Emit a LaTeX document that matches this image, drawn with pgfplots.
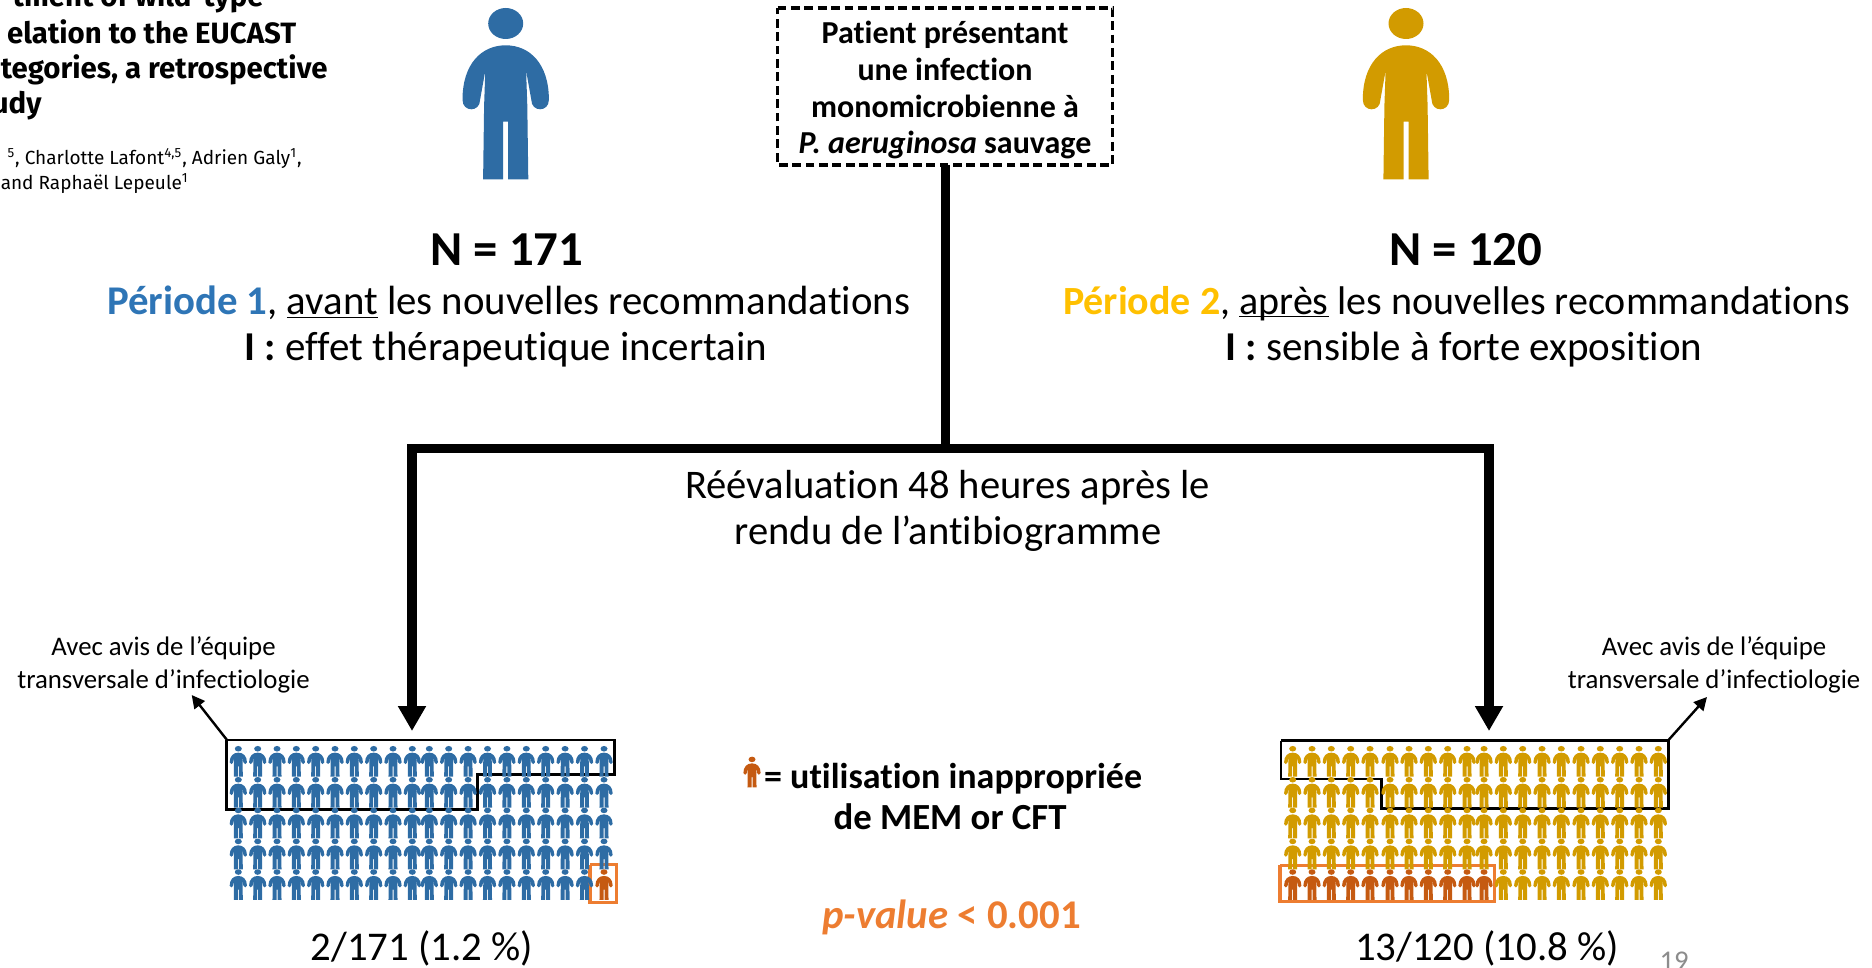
\documentclass[border=0pt]{standalone}
\usepackage{pgfplots}
\pgfplotsset{compat=1.18}
\usepackage{fontspec}
\usetikzlibrary{arrows.meta}
\setmainfont{Carlito}[RawFeature={-liga,-clig,-dlig}]
\newfontfamily\paperfont{Fira Sans}

\definecolor{pblue}{HTML}{2E6CA4}
\definecolor{pgold}{HTML}{D29B00}
\definecolor{pbrown}{HTML}{C55A11}
\definecolor{porange}{HTML}{ED7D31}
\definecolor{tblue}{HTML}{2E75B6}
\definecolor{tgold}{HTML}{FFC000}
\definecolor{pagegray}{HTML}{8C8C8C}

% little man, origin at mid height, about 43pt wide and 86pt tall
\def\PP#1#2{\pgfqpoint{#1pt}{#2pt}}
\pgfdeclareplotmark{person}{%
  \pgfpathellipse{\PP{0}{35.1}}{\PP{8.75}{0}}{\PP{0}{7.75}}%
  \pgfpathmoveto{\PP{-11.3}{-42.8}}%
  \pgfpathlineto{\PP{-1.25}{-42.8}}%
  \pgfpathlineto{\PP{-1.25}{-14}}%
  \pgfpathlineto{\PP{1.25}{-14}}%
  \pgfpathlineto{\PP{1.25}{-42.8}}%
  \pgfpathlineto{\PP{11.3}{-42.8}}%
  \pgfpathlineto{\PP{10.8}{-6}}%
  \pgfpathlineto{\PP{10.2}{11.5}}%
  \pgfpathlineto{\PP{12.8}{-3}}%
  \pgfpathcurveto{\PP{12.8}{-9.4}}{\PP{21.6}{-9.4}}{\PP{21.6}{-3}}%
  \pgfpathcurveto{\PP{21.6}{15}}{\PP{12}{24.2}}{\PP{0}{24.2}}%
  \pgfpathcurveto{\PP{-12}{24.2}}{\PP{-21.6}{15}}{\PP{-21.6}{-3}}%
  \pgfpathcurveto{\PP{-21.6}{-9.4}}{\PP{-12.8}{-9.4}}{\PP{-12.8}{-3}}%
  \pgfpathlineto{\PP{-10.2}{11.5}}%
  \pgfpathlineto{\PP{-10.8}{-6}}%
  \pgfpathclose
  \pgfusepathqfill
}

\pgfplotsset{
  man/.style={only marks, mark=person, color=#1, mark options={fill=#1, draw=none, xscale=0.2, yscale=0.179}},
  bigman/.style={only marks, mark=person, color=#1, mark options={fill=#1, draw=none}},
  thick line/.style={black, line width=4.7pt, line cap=butt, no markers},
  box line/.style={black, line width=1.4pt, no markers, line join=miter},
  orange box/.style={porange, line width=1.7pt, no markers, line join=miter},
}
\newcommand{\fs}[1]{\fontsize{#1}{#1}\selectfont}
\tikzset{lab/.style={anchor=base, inner sep=0pt}}

\begin{document}
\begin{tikzpicture}
\clip (0,0) rectangle (936pt,484pt);
\begin{axis}[
    at={(0,0)}, anchor=south west,
    scale only axis, width=936pt, height=484pt,
    xmin=0, xmax=1872, ymin=0, ymax=968,
    y dir=reverse, hide axis, clip=false,
]
% flow lines
\addplot[thick line] coordinates {(945.5,165) (945.5,449)};
\addplot[thick line] coordinates {(407.3,448.5) (1493.7,448.5)};
\addplot[thick line, -{Triangle[width=13.3pt,length=12.5pt]}] coordinates {(412,445) (412,731)};
\addplot[thick line, -{Triangle[width=13.3pt,length=12.5pt]}] coordinates {(1489,445) (1489,731)};
\addplot[black, line width=1.2pt, no markers, -{Triangle[width=6.5pt,length=6.5pt]}] coordinates {(227,740) (191.7,695)};
\addplot[black, line width=1.2pt, no markers, -{Triangle[width=6.5pt,length=6.5pt]}] coordinates {(1668.5,740) (1707,697)};
\addplot[black, line width=1.6pt, dash pattern=on 4.4pt off 2.3pt, no markers] coordinates {(777.5,8) (1112.7,8) (1112.7,165) (777.5,165) (777.5,8)};

% big figures
\addplot[bigman=pblue] coordinates {(505.7,93.7)};
\addplot[bigman=pgold] coordinates {(1406,93.7)};

% left pictogram, 100 figures
\addplot[man=pblue] coordinates {
(238.3,761.3) (257.7,761.3) (277,761.3) (296.3,761.3) (315.7,761.3) (335,761.3) (354.3,761.3) (373.7,761.3) (393,761.3) (412.3,761.3)
(429.3,761.3) (448.7,761.3) (468.1,761.3) (487.5,761.3) (506.9,761.3) (526.3,761.3) (545.7,761.3) (565.1,761.3) (584.5,761.3) (604,761.3)
(238.3,792.3) (257.7,792.3) (277,792.3) (296.3,792.3) (315.7,792.3) (335,792.3) (354.3,792.3) (373.7,792.3) (393,792.3) (412.3,792.3)
(429.3,792.3) (448.7,792.3) (468.1,792.3) (487.5,792.3) (506.9,792.3) (526.3,792.3) (545.7,792.3) (565.1,792.3) (584.5,792.3) (604,792.3)
(238.3,823) (257.7,823) (277,823) (296.3,823) (315.7,823) (335,823) (354.3,823) (373.7,823) (393,823) (412.3,823)
(429.3,823) (448.7,823) (468.1,823) (487.5,823) (506.9,823) (526.3,823) (545.7,823) (565.1,823) (584.5,823) (604,823)
(238.3,854) (257.7,854) (277,854) (296.3,854) (315.7,854) (335,854) (354.3,854) (373.7,854) (393,854) (412.3,854)
(429.3,854) (448.7,854) (468.1,854) (487.5,854) (506.9,854) (526.3,854) (545.7,854) (565.1,854) (584.5,854) (604,854)
(238.3,884.6) (257.7,884.6) (277,884.6) (296.3,884.6) (315.7,884.6) (335,884.6) (354.3,884.6) (373.7,884.6) (393,884.6) (412.3,884.6)
(429.3,884.6) (448.7,884.6) (468.1,884.6) (487.5,884.6) (506.9,884.6) (526.3,884.6) (545.7,884.6) (565.1,884.6) (584.5,884.6)
};
\addplot[man=pbrown] coordinates {(604,884.6)};

% right pictogram, 100 figures
\addplot[man=pgold] coordinates {
(1292.7,761.3) (1312,761.3) (1331.3,761.3) (1350.7,761.3) (1370,761.3) (1390,761.3) (1409,761.3) (1428.3,761.3) (1447.7,761.3) (1467,761.3)
(1484,761.3) (1503.3,761.3) (1522.7,761.3) (1542,761.3) (1561.3,761.3) (1581,761.3) (1600.3,761.3) (1619.7,761.3) (1639,761.3) (1658.3,761.3)
(1292.7,792.3) (1312,792.3) (1331.3,792.3) (1350.7,792.3) (1370,792.3) (1390,792.3) (1409,792.3) (1428.3,792.3) (1447.7,792.3) (1467,792.3)
(1484,792.3) (1503.3,792.3) (1522.7,792.3) (1542,792.3) (1561.3,792.3) (1581,792.3) (1600.3,792.3) (1619.7,792.3) (1639,792.3) (1658.3,792.3)
(1292.7,823) (1312,823) (1331.3,823) (1350.7,823) (1370,823) (1390,823) (1409,823) (1428.3,823) (1447.7,823) (1467,823)
(1484,823) (1503.3,823) (1522.7,823) (1542,823) (1561.3,823) (1581,823) (1600.3,823) (1619.7,823) (1639,823) (1658.3,823)
(1292.7,854) (1312,854) (1331.3,854) (1350.7,854) (1370,854) (1390,854) (1409,854) (1428.3,854) (1447.7,854) (1467,854)
(1484,854) (1503.3,854) (1522.7,854) (1542,854) (1561.3,854) (1581,854) (1600.3,854) (1619.7,854) (1639,854) (1658.3,854)
(1503.3,884.6) (1522.7,884.6) (1542,884.6) (1561.3,884.6) (1581,884.6) (1600.3,884.6) (1619.7,884.6) (1639,884.6) (1658.3,884.6)
};
\addplot[man=pbrown] coordinates {
(1292.7,884.6) (1312,884.6) (1331.3,884.6) (1350.7,884.6) (1370,884.6) (1390,884.6) (1409,884.6) (1428.3,884.6) (1447.7,884.6) (1467,884.6) (1484,884.6)
};
% legend figure
\addplot[man=pbrown] coordinates {(752,772)};

% outlines round the groups
\addplot[box line] coordinates {(226.7,740) (614.3,740) (614.3,774.3) (477.3,774.3) (477.3,809.3) (226.7,809.3) (226.7,740)};
\addplot[box line] coordinates {(1281,740.7) (1668.7,740.7) (1668.7,808.7) (1381.7,808.7) (1381.7,779) (1281,779) (1281,740.7)};
\addplot[orange box] coordinates {(590,864.7) (616.7,864.7) (616.7,902.7) (590,902.7) (590,864.7)};
\addplot[orange box] coordinates {(1280,865.3) (1494.3,865.3) (1494.3,901.7) (1280,901.7) (1280,865.3)};

% paper title, cut at the left edge of the slide
\node[lab, anchor=base east, font=\paperfont\fs{14.7}\bfseries] at (axis cs:264,7) {tment of wild-type};
\node[lab, anchor=base east, font=\paperfont\fs{14.7}\bfseries] at (axis cs:296.6,44) {elation to the EUCAST};
\node[lab, anchor=base east, font=\paperfont\fs{14.7}\bfseries] at (axis cs:328,78.5) {tegories, a retrospective};
\node[lab, anchor=base east, font=\paperfont\fs{14.7}\bfseries] at (axis cs:42,114) {udy};
\node[lab, anchor=base east, font=\paperfont\fs{9.5}] at (axis cs:302,165) {\textsuperscript{5}, Charlotte Lafont\textsuperscript{4,5}, Adrien Galy\textsuperscript{1},};
\node[lab, anchor=base east, font=\paperfont\fs{9.5}] at (axis cs:189,190) {and Raphaël Lepeule\textsuperscript{1}};

% box text
\node[lab, font=\fs{16}\bfseries] at (axis cs:945,44) {Patient présentant};
\node[lab, font=\fs{16}\bfseries] at (axis cs:945,81) {une infection};
\node[lab, font=\fs{16}\bfseries] at (axis cs:945,118) {monomicrobienne à};
\node[lab, font=\fs{16}\bfseries] at (axis cs:945,154) {\textit{P. aeruginosa} sauvage};

\node[lab, font=\fs{24.4}\bfseries] at (axis cs:507,265) {N = 171};
\node[lab, font=\fs{24.4}\bfseries] at (axis cs:1466,265) {N = 120};
\node[lab, font=\fs{20.4}] at (axis cs:508.6,314) {\textcolor{tblue}{\textbf{Période 1}}, \underline{avant} les nouvelles recommandations};
\node[lab, font=\fs{20.5}] at (axis cs:506,360) {\textbf{I :} effet thérapeutique incertain};
\node[lab, font=\fs{20}] at (axis cs:1456.7,314) {\textcolor{tgold}{\textbf{Période 2}}, \underline{\smash{après}} les nouvelles recommandations};
\node[lab, font=\fs{20.5}] at (axis cs:1464,360) {\textbf{I :} sensible à forte exposition};
\node[lab, font=\fs{20.3}] at (axis cs:947.5,498) {Réévaluation 48 heures après le};
\node[lab, font=\fs{20.3}] at (axis cs:948,544) {rendu de l’antibiogramme};

\node[lab, font=\fs{13.4}] at (axis cs:163.5,655) {Avec avis de l’équipe};
\node[lab, font=\fs{13.4}] at (axis cs:163.5,688) {transversale d’infectiologie};
\node[lab, font=\fs{13.4}] at (axis cs:1714,655) {Avec avis de l’équipe};
\node[lab, font=\fs{13.4}] at (axis cs:1714,688) {transversale d’infectiologie};

\node[lab, font=\fs{18}\bfseries] at (axis cs:953,788) {= utilisation inappropriée};
\node[lab, font=\fs{18.4}\bfseries] at (axis cs:950,829) {de MEM or CFT};
\node[lab, font=\fs{20.4}\bfseries, text=porange] at (axis cs:951.5,928) {\textit{p-value} < 0.001};

\node[lab, font=\fs{20.4}] at (axis cs:422,960) {2/171 (1.2 \%)};
\node[lab, font=\fs{20.4}] at (axis cs:1487,960) {13/120 (10.8 \%)};
\node[lab, font=\fs{14.3}, text=pagegray] at (axis cs:1674,970) {19};
\end{axis}
\end{tikzpicture}
\end{document}
